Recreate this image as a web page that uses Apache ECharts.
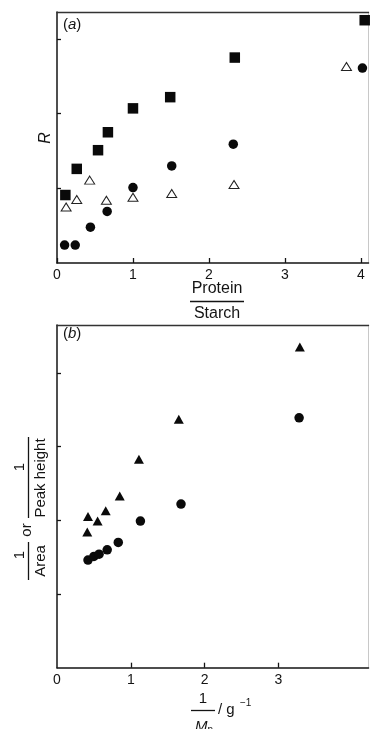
<!DOCTYPE html>
<html>
<head>
<meta charset="utf-8">
<script src="https://cdn.jsdelivr.net/npm/echarts@6/dist/echarts.min.js"></script>
<style>
  html, body { margin: 0; padding: 0; background: #fff; }
  #chart { width: 370px; height: 729px; }
</style>
</head>
<body>
<div id="chart"></div>
<script>
// Panel (a): R against protein/starch ratio
const ratioSquares = [0.11, 0.26, 0.54, 0.67, 1.00, 1.49, 2.34, 4.05];
const rSquares     = [0.91, 1.26, 1.51, 1.75, 2.07, 2.22, 2.75, 3.25];
const ratioCircles = [0.10, 0.24, 0.44, 0.66, 1.00, 1.51, 2.32, 4.02];
const rCircles     = [0.24, 0.24, 0.48, 0.69, 1.01, 1.30, 1.59, 2.61];
const ratioOpenTri = [0.12, 0.26, 0.43, 0.65, 1.00, 1.51, 2.33, 3.81];
const rOpenTri     = [0.75, 0.85, 1.11, 0.84, 0.88, 0.93, 1.05, 2.63];

// Panel (b): reciprocal response against 1/Mn
const invMnTri   = [0.41, 0.42, 0.55, 0.66, 0.85, 1.11, 1.65, 3.29];
const recipTri   = [1.84, 2.05, 1.99, 2.13, 2.33, 2.83, 3.37, 4.35];
const invMnCirc  = [0.42, 0.50, 0.57, 0.68, 0.83, 1.13, 1.68, 3.28];
const recipCirc  = [1.46, 1.51, 1.54, 1.60, 1.70, 1.99, 2.22, 3.39];

// Tick positions
const ticksAX = [0, 1, 2, 3, 4];
const ticksAY = [1, 2, 3];
const ticksBXLabels = [0, 1, 2, 3];
const ticksBX = [1, 2, 3];
const ticksBY = [1, 2, 3, 4];

const ink = '#141414';
const pairs = (xs, ys) => xs.map((x, i) => [x, ys[i]]);

const baseFont = 'Liberation Sans, Arial, Helvetica, sans-serif';

function mainX(gridIndex, max, tickVals, labelVals) {
  return {
    type: 'value', gridIndex, min: 0, max, position: 'bottom',
    splitLine: { show: false },
    axisLine: { show: true, onZero: false, lineStyle: { color: ink, width: 1.5 } },
    axisTick: { show: true, inside: true, length: 5, customValues: tickVals, lineStyle: { color: ink, width: 1.3 } },
    axisLabel: { show: true, customValues: labelVals, margin: 5, color: ink, fontSize: 14, fontFamily: baseFont }
  };
}
function mainY(gridIndex, max, tickVals) {
  return {
    type: 'value', gridIndex, min: 0, max, position: 'left',
    splitLine: { show: false },
    axisLine: { show: true, onZero: false, lineStyle: { color: ink, width: 1.5 } },
    axisTick: { show: true, inside: true, length: 4, customValues: tickVals, lineStyle: { color: ink, width: 1.3 } },
    axisLabel: { show: false }
  };
}
function frameX(gridIndex, max) {
  return {
    type: 'value', gridIndex, min: 0, max, position: 'top',
    splitLine: { show: false }, axisTick: { show: false }, axisLabel: { show: false },
    axisLine: { show: true, onZero: false, lineStyle: { color: '#333', width: 1.4 } }
  };
}
function frameY(gridIndex, max) {
  return {
    type: 'value', gridIndex, min: 0, max, position: 'right',
    splitLine: { show: false }, axisTick: { show: false }, axisLabel: { show: false },
    axisLine: { show: true, onZero: false, lineStyle: { color: '#c8c8c8', width: 1 } }
  };
}

const solid = { color: '#0a0a0a', opacity: 1 };

const option = {
  backgroundColor: '#fff',
  animation: false,
  grid: [
    { left: 57, top: 12, width: 311.5, height: 251 },
    { left: 57, top: 325, width: 311.5, height: 342.7 }
  ],
  xAxis: [
    mainX(0, 4.1, ticksAX, ticksAX),
    mainX(1, 4.22, ticksBX, ticksBXLabels),
    frameX(0, 4.1),
    frameX(1, 4.22)
  ],
  yAxis: [
    mainY(0, 3.36, ticksAY),
    mainY(1, 4.65, ticksBY),
    frameY(0, 3.36),
    frameY(1, 4.65)
  ],
  series: [
    {
      type: 'scatter', xAxisIndex: 0, yAxisIndex: 0,
      data: pairs(ratioSquares, rSquares),
      symbol: 'rect', symbolSize: 10.5,
      itemStyle: solid
    },
    {
      type: 'scatter', xAxisIndex: 0, yAxisIndex: 0,
      data: pairs(ratioCircles, rCircles),
      symbol: 'circle', symbolSize: 9.5,
      itemStyle: solid
    },
    {
      type: 'scatter', xAxisIndex: 0, yAxisIndex: 0,
      data: pairs(ratioOpenTri, rOpenTri),
      symbol: 'triangle', symbolSize: [10, 8],
      itemStyle: { color: '#fff', opacity: 1, borderColor: '#222', borderWidth: 1 }
    },
    {
      type: 'scatter', xAxisIndex: 1, yAxisIndex: 1,
      data: pairs(invMnTri, recipTri),
      symbol: 'triangle', symbolSize: [10, 9],
      itemStyle: solid
    },
    {
      type: 'scatter', xAxisIndex: 1, yAxisIndex: 1,
      data: pairs(invMnCirc, recipCirc),
      symbol: 'circle', symbolSize: 9.5,
      itemStyle: solid
    }
  ],
  graphic: [
    // panel letters
    {
      type: 'text', x: 63, y: 25,
      style: {
        text: '{n|(}{i|a}{n|)}', textVerticalAlign: 'middle',
        rich: {
          n: { fontSize: 15, fontFamily: baseFont, fill: ink },
          i: { fontSize: 15, fontFamily: baseFont, fontStyle: 'italic', fill: ink }
        }
      }
    },
    {
      type: 'text', x: 63, y: 334,
      style: {
        text: '{n|(}{i|b}{n|)}', textVerticalAlign: 'middle',
        rich: {
          n: { fontSize: 15, fontFamily: baseFont, fill: ink },
          i: { fontSize: 15, fontFamily: baseFont, fontStyle: 'italic', fill: ink }
        }
      }
    },
    // y label, panel (a)
    {
      type: 'text', x: 46, y: 138, rotation: Math.PI / 2,
      style: {
        text: 'R', font: 'italic 16px ' + baseFont, fill: ink,
        textAlign: 'center', textVerticalAlign: 'middle'
      }
    },
    // x label, panel (a): Protein / Starch
    {
      type: 'text', x: 217, y: 289,
      style: { text: 'Protein', font: '16px ' + baseFont, fill: ink, textAlign: 'center', textVerticalAlign: 'middle' }
    },
    {
      type: 'line', shape: { x1: 190, y1: 301.5, x2: 244, y2: 301.5 },
      style: { stroke: ink, lineWidth: 1.3 }
    },
    {
      type: 'text', x: 217, y: 314,
      style: { text: 'Starch', font: '16px ' + baseFont, fill: ink, textAlign: 'center', textVerticalAlign: 'middle' }
    },
    // x label, panel (b): 1/Mn / g^-1
    {
      type: 'text', x: 203, y: 699,
      style: { text: '1', font: '15px ' + baseFont, fill: ink, textAlign: 'center', textVerticalAlign: 'middle' }
    },
    {
      type: 'line', shape: { x1: 191, y1: 710.5, x2: 215, y2: 710.5 },
      style: { stroke: ink, lineWidth: 1.3 }
    },
    {
      type: 'text', x: 195, y: 719,
      style: {
        text: '{i|M}{s|n}', textVerticalAlign: 'top',
        rich: {
          i: { fontSize: 15, fontFamily: baseFont, fontStyle: 'italic', fill: ink },
          s: { fontSize: 10, fontFamily: baseFont, fill: ink, padding: [6, 0, 0, 0] }
        }
      }
    },
    {
      type: 'text', x: 218, y: 710,
      style: { text: '/ g', font: '15px ' + baseFont, fill: ink, textAlign: 'left', textVerticalAlign: 'middle' }
    },
    {
      type: 'text', x: 240, y: 703,
      style: { text: '\u22121', font: '10px ' + baseFont, fill: ink, textAlign: 'left', textVerticalAlign: 'middle' }
    },
    // y label, panel (b): 1/Area or 1/Peak height, read bottom to top
    {
      type: 'group', x: 28.5, y: 510, rotation: Math.PI / 2,
      children: [
        { type: 'text', x: -45, y: -8.5,
          style: { text: '1', font: '15px ' + baseFont, fill: ink, textAlign: 'center', textVerticalAlign: 'middle' } },
        { type: 'line', shape: { x1: -70, y1: 0, x2: -32, y2: 0 }, style: { stroke: ink, lineWidth: 1.3 } },
        { type: 'text', x: -51, y: 12.5,
          style: { text: 'Area', font: '15px ' + baseFont, fill: ink, textAlign: 'center', textVerticalAlign: 'middle' } },
        { type: 'text', x: -20, y: -2,
          style: { text: 'or', font: '15px ' + baseFont, fill: ink, textAlign: 'center', textVerticalAlign: 'middle' } },
        { type: 'text', x: 43, y: -8.5,
          style: { text: '1', font: '15px ' + baseFont, fill: ink, textAlign: 'center', textVerticalAlign: 'middle' } },
        { type: 'line', shape: { x1: -8, y1: 0, x2: 73, y2: 0 }, style: { stroke: ink, lineWidth: 1.3 } },
        { type: 'text', x: 32, y: 12.5,
          style: { text: 'Peak height', font: '15px ' + baseFont, fill: ink, textAlign: 'center', textVerticalAlign: 'middle' } }
      ]
    }
  ]
};

const chart = echarts.init(document.getElementById('chart'), null, { renderer: 'canvas' });
chart.setOption(option);
</script>
</body>
</html>
